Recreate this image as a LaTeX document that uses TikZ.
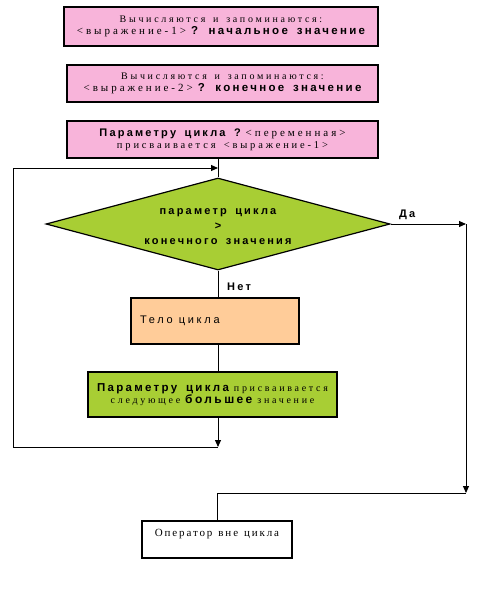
\documentclass[tikz,border=0pt]{standalone}
\usepackage{fontspec}
\setmainfont{Liberation Serif}
\newfontfamily\ser[LetterSpace=27,WordSpace=1.5]{Liberation Serif}
\newfontfamily\serc[LetterSpace=17,WordSpace=1.3]{Liberation Serif}
\newfontface\sbf[LetterSpace=20,WordSpace=1.6]{Liberation Sans Bold}
\newfontfamily\sns[LetterSpace=25]{Liberation Sans}
\usetikzlibrary{shapes.geometric,arrows.meta}
\definecolor{pinkf}{RGB}{248,180,218}
\definecolor{greenf}{RGB}{168,206,52}
\definecolor{peach}{RGB}{255,204,153}
\newcommand\gap{\hspace{5pt}}
\tikzset{
 box/.style={draw=black,line width=1.2pt,inner sep=0pt,align=center},
 pinkbox/.style={box,fill=pinkf},
 greenbox/.style={box,fill=greenf},
 conn/.style={draw=black,line width=1pt},
 arr/.style={conn,-{Triangle[length=7pt,width=6pt]}},
 lbl/.style={inner sep=0pt,font=\sbf\fontsize{11}{13}\selectfont},
}
\begin{document}
\begin{tikzpicture}[x=1pt,y=-1pt]
\useasboundingbox (0,0) rectangle (483,592);
\node[pinkbox,minimum width=314pt,minimum height=39pt] (b1) at (221,26.5)
 {{\ser\fontsize{10}{16}\selectfont Вычисляются и запоминаются:}\\
  {\ser\fontsize{11}{16}\selectfont <выражение-1>}\gap{\sbf\fontsize{11.5}{16}\selectfont ? начальное значение}};
\node[pinkbox,minimum width=311pt,minimum height=37pt] (b2) at (222.5,83.5)
 {{\ser\fontsize{10}{16}\selectfont Вычисляются и запоминаются:}\\
  {\ser\fontsize{11}{16}\selectfont <выражение-2>}\gap{\sbf\fontsize{11.5}{16}\selectfont ? конечное значение}};
\node[pinkbox,minimum width=311pt,minimum height=37pt] (b3) at (222.5,139.5)
 {{\sbf\fontsize{11}{16}\selectfont Параметру цикла ?}\gap{\ser\fontsize{11}{16}\selectfont <переменная>}\\
  {\ser\fontsize{10.5}{16}\selectfont присваивается <выражение-1>}};
\node[diamond,draw=black,line width=1.2pt,fill=greenf,inner sep=0pt,minimum width=344pt,minimum height=92pt] (d) at (218,224) {};
\node[align=center,inner sep=0pt,font=\sbf\fontsize{11}{15}\selectfont] (dt) at (218,226.5) {параметр цикла\\>\\конечного значения};
\node[box,fill=peach,minimum width=168pt,minimum height=46pt,text width=150pt,align=left] (body) at (215,321)
 {\sns\fontsize{11}{13}\selectfont Тело\hspace{6pt}цикла};
\node[greenbox,minimum width=249pt,minimum height=45pt] (b4) at (212.5,394.5)
 {{\sbf\fontsize{11.5}{15}\selectfont Параметру цикла}\gap{\ser\fontsize{10}{15}\selectfont присваивается}\\
  {\ser\fontsize{10}{15}\selectfont следующее}\gap{\sbf\fontsize{12}{15}\selectfont большее}\gap{\ser\fontsize{10}{15}\selectfont значение}};
\node[box,fill=white,minimum width=150pt,minimum height=37pt,text height=8pt,text depth=14pt] (b5) at (217,539.5)
 {\serc\fontsize{11}{13}\selectfont Оператор вне цикла};
\node[lbl,anchor=base west] (yes) at (399,217) {Да};
\node[lbl,anchor=base west] (no) at (227,290) {Нет};
\coordinate (loopT) at (218,168);
\coordinate (loopB) at (218,447);
\coordinate (yesR) at (466,224);
\coordinate (yesB) at (466,493);
\draw[conn] (d.north |- b3.south) -- (d.north);
\draw[arr] (13,447) |- (loopT);
\draw[conn] (loopB) -- (13,447);
\draw[conn] (d.south) -- (d.south |- body.north);
\draw[conn] (d.south |- body.south) -- (d.south |- b4.north);
\draw[arr] (d.south |- b4.south) -- (loopB);
\draw[arr] (d.east) -- (yesR);
\draw[arr] (yesR) -- (yesB);
\draw[conn] (yesB) -| (b5.north);
\end{tikzpicture}
\end{document}
